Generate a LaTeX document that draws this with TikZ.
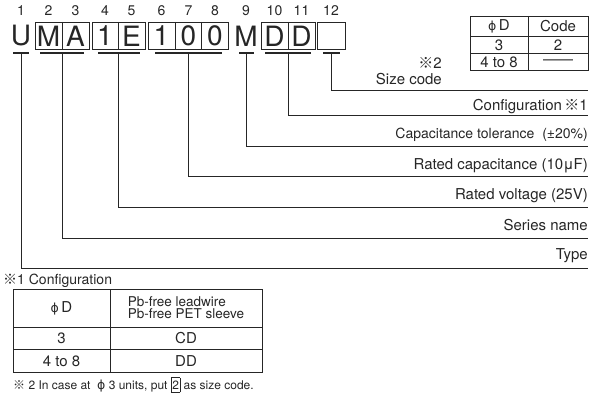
\documentclass[tikz,border=0pt]{standalone}
\usepackage{fontspec}
\setmainfont{TeX Gyre Heros}
\newfontfamily\refmark{Noto Sans CJK JP}
\newfontfamily\phifont{DejaVu Sans}
\newcommand{\rmk}{{\refmark ※}}
\newcommand{\phid}{{\phifont\fontsize{12.5}{14}\selectfont ϕ}}
\begin{document}
\begin{tikzpicture}[x=1pt,y=-1pt,
  digit/.style={font=\fontsize{14}{16}\selectfont, inner sep=0pt, text=black!85},
  big/.style={font=\fontsize{28}{30}\selectfont, inner sep=0pt, text=black!85},
  lbl/.style={font=\fontsize{15}{18}\selectfont, inner sep=0pt, anchor=base east, text=black!85},
  lblsm/.style={font=\fontsize{14}{17}\selectfont, inner sep=0pt, anchor=base east, text=black!85},
  cell/.style={font=\fontsize{15}{17}\selectfont, inner sep=0pt, text=black!85},
  small/.style={font=\fontsize{13.5}{12}\selectfont, inner sep=0pt, text=black!85, align=left},
  foot/.style={font=\fontsize{12}{14}\selectfont, inner sep=0pt, anchor=west, text=black!85},
  uline/.style={draw=black!85, line width=2pt},
  conn/.style={draw=black!85, line width=0.9pt},
  frame/.style={draw=black!85, line width=0.8pt}]
\useasboundingbox (0,0) rectangle (601,395);

% position digits
\foreach \x/\n [count=\i] in {21/1,48.5/2,75.5/3,105/4,131.5/5,161.5/6,188.5/7,215/8,246/9,274.5/10,301.5/11,331/12}
  \node[digit] (d\i) at (\x,11) {\n};

% boxes
\draw[frame] (35,22) rectangle (89,49) (62,22) -- (62,49);
\draw[frame] (92,22) rectangle (145,49) (118.5,22) -- (118.5,49);
\draw[frame] (148,22) rectangle (228,49) (175,22) -- (175,49) (201.5,22) -- (201.5,49);
\draw[frame] (261,22) rectangle (315,49) (288,22) -- (288,49);
\draw[frame] (317.5,22) rectangle (345,49);

% big letters
\foreach \x/\l [count=\i] in {21/U,48.5/M,75.5/A,105/1,131.5/E,161.5/1,188.5/0,215/0,246/M,274.5/D,301.5/D}
  \node[big] (c\i) at (\x,36) {\l};

% underlines
\draw[uline] (13,53.5) -- (29,53.5);
\draw[uline] (40,53.5) -- (84,53.5);
\draw[uline] (98,53.5) -- (140,53.5);
\draw[uline] (155,53.5) -- (222,53.5);
\draw[uline] (239,53.5) -- (254,53.5);
\draw[uline] (265,53.5) -- (311,53.5);
\draw[uline] (323,53.5) -- (340,53.5);

\coordinate (pU) at (21,54);
\coordinate (pMA) at (62,54);
\coordinate (pE) at (118.5,54);
\coordinate (pC) at (188.5,54);
\coordinate (pM) at (246,54);
\coordinate (pD) at (288,54);
\coordinate (pS) at (331,54);

\coordinate (eS) at (588,90);
\coordinate (eD) at (588,115);
\coordinate (eM) at (588,146);
\coordinate (eC) at (588,176);
\coordinate (eE) at (588,207);
\coordinate (eMA) at (588,238);
\coordinate (eU) at (588,268);

\draw[conn] (pS) |- (eS);
\draw[conn] (pD) |- (eD);
\draw[conn] (pM) |- (eM);
\draw[conn] (pC) |- (eC);
\draw[conn] (pE) |- (eE);
\draw[conn] (pMA) |- (eMA);
\draw[conn] (pU) |- (eU);

% labels
\node[lbl] (lD) at (588,111) {Configuration\,\rmk 1};
\node[lblsm] (lM) at (588,139) {Capacitance tolerance\ \ (±20\%)};
\node[lbl] (lC) at (588,169.5) {Rated capacitance (10μF)};
\node[lbl] (lE) at (588,199.5) {Rated voltage (25V)};
\node[lbl] (lMA) at (588,230) {Series name};
\node[lbl] (lU) at (588,259) {Type};

% size code note
\node[lbl] (n2) at (442,69) {\rmk 2};
\node[lbl] (sc) at (442,85) {Size code};

% top table
\draw[frame] (470,16) rectangle (588,70);
\draw[frame] (528,16) -- (528,70);
\draw[frame] (470,36.5) -- (588,36.5) (470,53.5) -- (588,53.5);
\node[cell] (t11) at (499,26.5) {\phid\,D};
\node[cell] (t12) at (558,26.5) {Code};
\node[cell] (t21) at (499,45) {3};
\node[cell] (t22) at (558,45) {2};
\node[cell] (t31) at (499,62) {4 to 8};
\node[cell] (t32) at (558,62) {——};

% configuration table
\node[font=\fontsize{14}{16}\selectfont, inner sep=0pt, anchor=west, text=black!85] (cfg) at (3,281) {\rmk 1 Configuration};
\draw[frame] (13,289) rectangle (262,372);
\draw[frame] (110,289) -- (110,372);
\draw[frame] (13,327) -- (262,327) (13,349.5) -- (262,349.5);
\node[cell] (b11) at (61.5,308) {\phid\,D};
\node[small] (b12) at (186,308) {Pb-free leadwire\\Pb-free PET sleeve};
\node[cell] (b21) at (61.5,338.5) {3};
\node[cell] (b22) at (186,338.5) {CD};
\node[cell] (b31) at (61.5,361) {4 to 8};
\node[cell] (b32) at (186,361) {DD};

% footnote
\node[foot] (fn) at (13,385) {\rmk\ 2 In case at \ \phid\ 3 units, put \fbox{\kern-2pt 2\kern-2pt} as size code.};
\end{tikzpicture}
\end{document}
